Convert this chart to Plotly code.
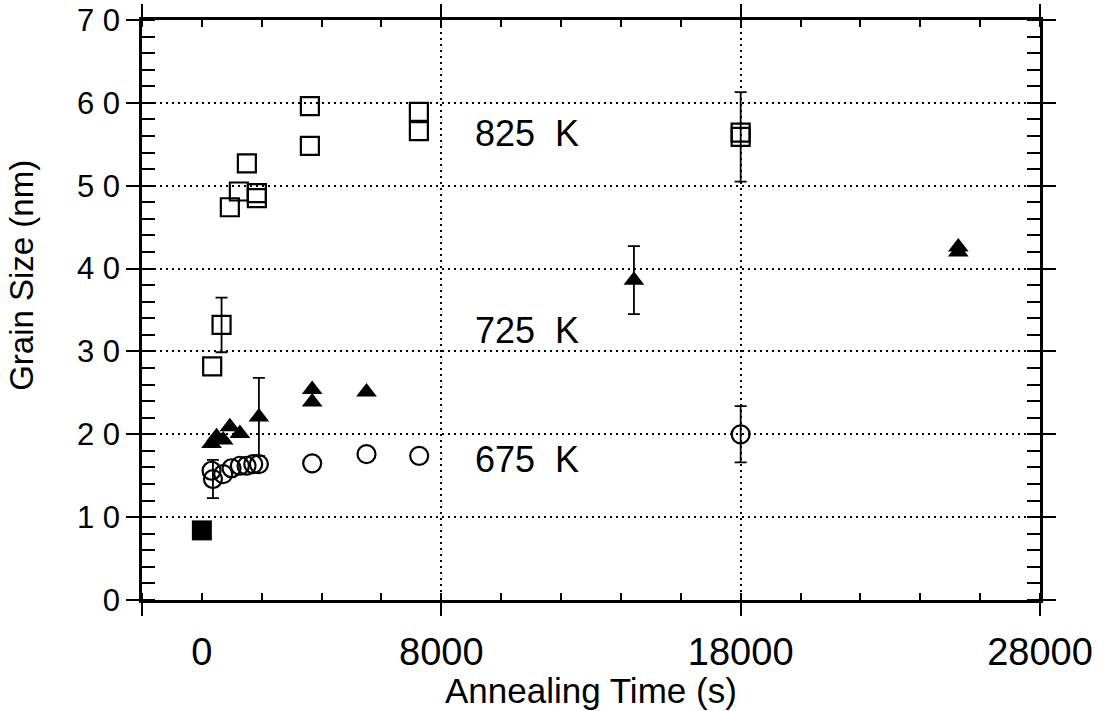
import plotly.graph_objects as go

# ---- data ----
# 825 K (open squares)
sq_t = [345, 935, 1236, 1503, 1838, 1838, 3608, 3608, 7250, 7250, 18000]
sq_g = [28.2, 47.4, 49.3, 52.7, 49.1, 48.5, 59.6, 54.8, 58.9, 56.6, 56.4]
sq_err_t = [658, 18000]
sq_err_g = [33.2, 55.9]
sq_err = [3.3, 5.4]

# 725 K (filled triangles)
tri_t = [324, 490, 712, 935, 1270, 3685, 3685, 5500, 25270, 25270]
tri_g = [18.9, 19.7, 19.3, 20.9, 20.1, 25.4, 23.9, 25.1, 42.6, 42.0]
tri_err_t = [1905, 14434]
tri_err_g = [22.1, 38.6]
tri_err = [4.7, 4.1]

# 675 K (open circles)
cir_t = [324, 712, 992, 1270, 1493, 1716, 1905, 3685, 5500, 7260]
cir_g = [15.6, 15.2, 15.9, 16.2, 16.2, 16.4, 16.4, 16.5, 17.6, 17.4]
cir_err_t = [370, 18000]
cir_err_g = [14.6, 20.0]
cir_err = [2.3, 3.4]

# as-prepared (filled square)
init_t = [0]
init_g = [8.4]

labels = ["825\u00a0\u00a0K", "725\u00a0\u00a0K", "675\u00a0\u00a0K"]
label_g = [56.3, 32.5, 16.9]

x_label_vals = [0, 8000, 18000, 28000]
x_label_text = ["0", "8000", "18000", "28000"]
x_major = [-2000, 8000, 18000, 28000]
y_vals = [0, 10, 20, 30, 40, 50, 60, 70]
y_text = ["0", "1 0", "2 0", "3 0", "4 0", "5 0", "6 0", "7 0"]

FONT = "Liberation Sans, Arial, Helvetica, sans-serif"
BLACK = "black"

sq_marker = dict(symbol="square-open", size=18, color=BLACK, line=dict(width=2.2, color=BLACK))
tri_marker = dict(symbol="triangle-up", size=18, color=BLACK, line=dict(width=0))
cir_marker = dict(symbol="circle-open", size=18, color=BLACK, line=dict(width=2.2, color=BLACK))
ebar = lambda arr: dict(type="data", array=arr, visible=True, color=BLACK, thickness=1.8, width=6)

fig = go.Figure()
fig.add_trace(go.Scatter(x=cir_t, y=cir_g, mode="markers", marker=cir_marker, showlegend=False))
fig.add_trace(go.Scatter(x=cir_err_t, y=cir_err_g, mode="markers", marker=cir_marker,
                         error_y=ebar(cir_err), showlegend=False))
fig.add_trace(go.Scatter(x=tri_t, y=tri_g, mode="markers", marker=tri_marker, showlegend=False))
fig.add_trace(go.Scatter(x=tri_err_t, y=tri_err_g, mode="markers", marker=tri_marker,
                         error_y=ebar(tri_err), showlegend=False))
fig.add_trace(go.Scatter(x=sq_t, y=sq_g, mode="markers", marker=sq_marker, showlegend=False))
fig.add_trace(go.Scatter(x=sq_err_t, y=sq_err_g, mode="markers", marker=sq_marker,
                         error_y=ebar(sq_err), showlegend=False))
fig.add_trace(go.Scatter(x=init_t, y=init_g, mode="markers", xaxis="x2",
                         marker=dict(symbol="square", size=20, color=BLACK), showlegend=False))

for txt, g in zip(labels, label_g):
    fig.add_annotation(x=9050, y=g, text=txt, showarrow=False, xanchor="left", yanchor="middle",
                       font=dict(family=FONT, size=36, color=BLACK))

# axis titles
fig.add_annotation(xref="paper", yref="paper", x=0.5, y=-0.156, text="Annealing Time (s)",
                   showarrow=False, xanchor="center", yanchor="middle",
                   font=dict(family=FONT, size=35, color=BLACK))
fig.add_annotation(xref="paper", yref="paper", x=-0.134, y=0.56, text="Grain Size (nm)",
                   showarrow=False, xanchor="center", yanchor="middle", textangle=-90,
                   font=dict(family=FONT, size=33, color=BLACK))

XR = [-2000, 28000]
fig.update_layout(
    width=1111, height=711,
    margin=dict(l=142, r=71, t=20, b=111, pad=0),
    paper_bgcolor="white", plot_bgcolor="white",
    font=dict(family=FONT, color=BLACK),
    xaxis=dict(
        range=XR, tickmode="array", tickvals=x_major, showticklabels=False,
        ticks="outside", ticklen=13, tickwidth=2, tickcolor=BLACK,
        showline=True, linewidth=2.5, linecolor=BLACK, mirror="allticks",
        showgrid=True, gridcolor=BLACK, gridwidth=2, griddash="2px,4px",
        zeroline=False, automargin=False,
        minor=dict(dtick=2000, tick0=0, ticks="inside", ticklen=7, tickwidth=2,
                   tickcolor=BLACK, showgrid=False),
    ),
    xaxis2=dict(
        range=XR, overlaying="x", anchor="y", side="bottom",
        tickmode="array", tickvals=x_label_vals, ticktext=x_label_text,
        ticks="", showline=False, showgrid=False, zeroline=False, automargin=False,
        tickfont=dict(family=FONT, size=38, color=BLACK), ticklabelstandoff=26,
    ),
    yaxis=dict(
        range=[0, 70], tickmode="array", tickvals=y_vals, ticktext=y_text,
        ticks="outside", ticklen=13, tickwidth=2, tickcolor=BLACK,
        showline=True, linewidth=2.5, linecolor=BLACK, mirror="allticks",
        showgrid=True, gridcolor=BLACK, gridwidth=2, griddash="2px,4px",
        zeroline=False, automargin=False,
        tickfont=dict(family=FONT, size=31, color=BLACK), ticklabelstandoff=0,
        minor=dict(dtick=2, tick0=0, ticks="inside", ticklen=7, tickwidth=2,
                   tickcolor=BLACK, showgrid=False),
    ),
)

fig.write_html("out.html")
